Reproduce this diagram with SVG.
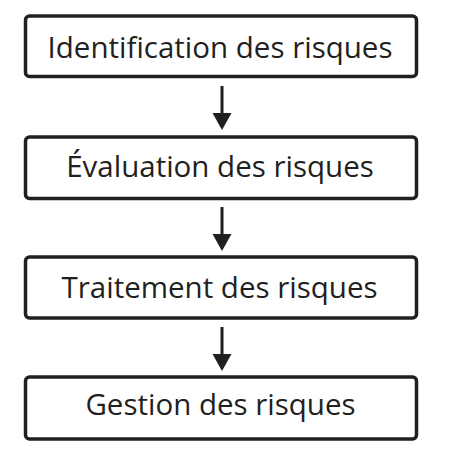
<svg xmlns="http://www.w3.org/2000/svg" width="449" height="459" viewBox="0 0 449 459">
<style>
.box{fill:#fff;stroke:#231f20;stroke-width:3.5}
.lbl{font-family:"Open Sans","Noto Sans",sans-serif;font-size:29.5px;fill:#231f20;text-anchor:middle}
.con{stroke:#231f20;stroke-width:3;fill:none}
.head{fill:#231f20}
</style>
<rect width="449" height="459" fill="#fff"/>
<g id="n1"><rect class="box" x="25.5" y="16" width="391" height="60.5" rx="4"/><text class="lbl" x="220" y="58">Identification des risques</text></g>
<g id="n2"><rect class="box" x="25.5" y="137" width="391" height="61.5" rx="4"/><text class="lbl" x="220" y="177">Évaluation des risques</text></g>
<g id="n3"><rect class="box" x="25.5" y="257" width="391" height="61" rx="4"/><text class="lbl" x="219.5" y="298">Traitement des risques</text></g>
<g id="n4"><rect class="box" x="25.5" y="377" width="391" height="62" rx="4"/><text class="lbl" x="220.5" y="415">Gestion des risques</text></g>
<g id="connectors">
<line class="con" x1="222" y1="86" x2="222" y2="114"/><polygon class="head" points="212.5,113 231.5,113 222,130"/>
<line class="con" x1="222" y1="207" x2="222" y2="235"/><polygon class="head" points="212.5,234 231.5,234 222,251"/>
<line class="con" x1="222" y1="327" x2="222" y2="355"/><polygon class="head" points="212.5,354 231.5,354 222,371"/>
</g>
</svg>
